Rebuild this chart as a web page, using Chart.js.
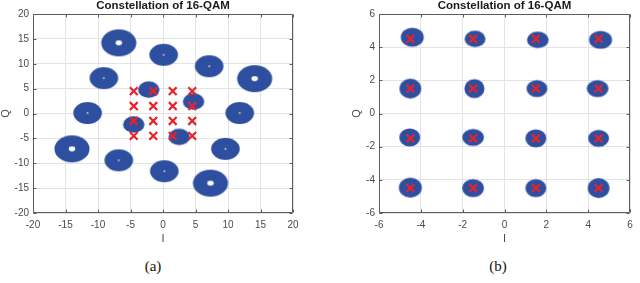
<!DOCTYPE html>
<html>
<head>
<meta charset="utf-8">
<script src="https://cdn.jsdelivr.net/npm/chart.js@4"></script>
<style>
    html, body { margin: 0; padding: 0; background: #fff; }
    #page { position: relative; width: 640px; height: 283px; overflow: hidden; }
    .panel { position: absolute; top: 0; width: 320px; height: 250px; }
    .caption {
        position: absolute; top: 258px; width: 60px; text-align: center;
        font-family: 'Liberation Serif', 'DejaVu Serif', serif; font-size: 15px; color: #111;
    }
</style>
</head>
<body>
<div id="page">
    <div class="panel" style="left:0"><canvas id="chartA" width="320" height="250"></canvas></div>
    <div class="panel" style="left:320px"><canvas id="chartB" width="320" height="250"></canvas></div>
    <div class="caption" style="left:123px">(a)</div>
    <div class="caption" style="left:468px">(b)</div>
</div>
<script>
/* ==========================================
   16-QAM CONSTELLATIONS
   ========================================== */

// (a) received clusters: centre, spread (radius of the cloud) and empty core, in I/Q units
const rxI      = [-6.8, 0.1, 7.1, 14.1, 11.8, 9.6, 7.3, 0.2, -6.8, -14.0, -11.6, -9.1, -2.2, 4.7, 2.5, -4.5];
const rxQ      = [14.2, 11.8, 9.5, 7.0, 0.1, -7.1, -14.0, -11.6, -9.4, -7.1, 0.1, 7.1, 4.8, 2.4, -4.7, -2.2];
const rxSpread = [2.7, 2.2, 2.2, 2.7, 2.2, 2.2, 2.7, 2.2, 2.2, 2.7, 2.2, 2.2, 1.65, 1.65, 1.65, 1.65];
const rxHole   = [0.5, 0.15, 0.15, 0.5, 0.15, 0.15, 0.5, 0.15, 0.15, 0.5, 0.15, 0.15, 0, 0, 0, 0];

// (b) corrected clusters
const eqI       = [-4.41, -1.41, 1.59, 4.59, -4.5, -1.44, 1.55, 4.45, -4.53, -1.5, 1.5, 4.5, -4.5, -1.5, 1.5, 4.5];
const eqQ       = [4.6, 4.5, 4.44, 4.44, 1.5, 1.5, 1.5, 1.5, -1.44, -1.44, -1.5, -1.5, -4.47, -4.5, -4.5, -4.5];
const eqSpreadI = [0.55, 0.5, 0.52, 0.55, 0.52, 0.48, 0.5, 0.52, 0.5, 0.52, 0.5, 0.5, 0.55, 0.52, 0.5, 0.52];
const eqSpreadQ = [0.58, 0.5, 0.5, 0.55, 0.6, 0.58, 0.52, 0.52, 0.55, 0.52, 0.55, 0.52, 0.6, 0.55, 0.55, 0.6];

// ideal 16-QAM points (red crosses)
const refI = [-4.5, -1.5, 1.5, 4.5, -4.5, -1.5, 1.5, 4.5, -4.5, -1.5, 1.5, 4.5, -4.5, -1.5, 1.5, 4.5];
const refQ = [4.5, 4.5, 4.5, 4.5, 1.5, 1.5, 1.5, 1.5, -1.5, -1.5, -1.5, -1.5, -4.5, -4.5, -4.5, -4.5];

const ticksA = [-20, -15, -10, -5, 0, 5, 10, 15, 20];
const ticksB = [-6, -4, -2, 0, 2, 4, 6];

const BLUE = '#2e4f9f';
const RED = '#e8222a';
const AXIS = '#5c5c5c';
const TEXT = '#4a4a4a';
const SANS = "'Liberation Sans', Arial, sans-serif";

function points(xs, ys) {
    return xs.map((v, i) => ({ x: v, y: ys[i] }));
}

// Each cloud becomes an ellipse image sized through the chart's own scales
const blobCache = {};
function blobStyle(tag, spreadI, spreadQ, hole) {
    return function (context) {
        const i = context.dataIndex;
        const sx = context.chart.scales.x;
        const sy = context.chart.scales.y;
        const rx = Math.abs(sx.getPixelForValue(spreadI[i]) - sx.getPixelForValue(0));
        const ry = Math.abs(sy.getPixelForValue(spreadQ[i]) - sy.getPixelForValue(0));
        const h = hole ? hole[i] : 0;
        const hx = Math.abs(sx.getPixelForValue(h) - sx.getPixelForValue(0));
        const hy = Math.abs(sy.getPixelForValue(h) - sy.getPixelForValue(0));
        const key = [tag, i, rx.toFixed(1), ry.toFixed(1)].join('-');
        if (blobCache[key]) return blobCache[key];

        const c = document.createElement('canvas');
        c.width = Math.ceil(rx * 2) + 4;
        c.height = Math.ceil(ry * 2) + 4;
        const g = c.getContext('2d');
        g.fillStyle = BLUE;
        g.beginPath();
        g.ellipse(c.width / 2, c.height / 2, rx, ry, 0, 0, Math.PI * 2);
        g.fill();
        if (hx > 0.4) {
            g.globalCompositeOperation = 'destination-out';
            g.beginPath();
            g.ellipse(c.width / 2, c.height / 2, Math.max(hx, 0.8), Math.max(hy, 0.8), 0, 0, Math.PI * 2);
            g.fill();
        }
        blobCache[key] = c;
        return c;
    };
}

// MATLAB-like box with inward ticks on all four sides
const boxPlugin = {
    id: 'matlabBox',
    afterDatasetsDraw(chart) {
        const { ctx, chartArea: a, scales: { x, y } } = chart;
        const L = Math.round(a.left) + 0.5, R = Math.round(a.right) - 0.5;
        const T = Math.round(a.top) + 0.5, B = Math.round(a.bottom) - 0.5;
        const tl = 3;
        ctx.save();
        ctx.strokeStyle = AXIS;
        ctx.lineWidth = 1;
        ctx.beginPath();
        ctx.rect(L, T, R - L, B - T);
        x.ticks.forEach(t => {
            const px = Math.round(x.getPixelForValue(t.value)) + 0.5;
            ctx.moveTo(px, B); ctx.lineTo(px, B - tl);
            ctx.moveTo(px, T); ctx.lineTo(px, T + tl);
        });
        y.ticks.forEach(t => {
            const py = Math.round(y.getPixelForValue(t.value)) + 0.5;
            ctx.moveTo(L, py); ctx.lineTo(L + tl, py);
            ctx.moveTo(R, py); ctx.lineTo(R - tl, py);
        });
        ctx.stroke();
        ctx.restore();
    }
};

function buildChart(id, cfg) {
    const tickFont = { family: SANS, size: 10 };
    const axisTitleFont = { family: SANS, size: 11, lineHeight: 1 };

    return new Chart(document.getElementById(id), {
        type: 'scatter',
        data: {
            datasets: [
                {
                    data: points(refI, refQ),
                    pointStyle: 'crossRot',
                    radius: 5.5,
                    borderWidth: 2.2,
                    borderColor: RED,
                    backgroundColor: RED,
                    order: 0
                },
                {
                    data: points(cfg.cx, cfg.cy),
                    pointStyle: blobStyle(id, cfg.spreadI, cfg.spreadQ, cfg.hole),
                    radius: 10,
                    borderWidth: 0,
                    order: 1
                }
            ]
        },
        options: {
            responsive: false,
            animation: false,
            events: [],
            layout: { padding: cfg.padding },
            plugins: {
                legend: { display: false },
                tooltip: { enabled: false },
                title: {
                    display: true,
                    text: 'Constellation of 16-QAM',
                    fullSize: false,
                    color: '#1a1a1a',
                    font: { family: SANS, size: 11.5, weight: 'bold', lineHeight: 1 },
                    padding: { top: 0, bottom: 2.5 }
                }
            },
            scales: {
                x: {
                    type: 'linear',
                    min: cfg.ticks[0],
                    max: cfg.ticks[cfg.ticks.length - 1],
                    afterBuildTicks: s => { s.ticks = cfg.ticks.map(v => ({ value: v })); },
                    afterFit: s => { s.height = 37; },
                    grid: { color: '#e4e4e4', drawTicks: false },
                    border: { display: false },
                    ticks: { color: TEXT, font: tickFont, padding: 6, maxRotation: 0 },
                    title: { display: true, text: 'I', color: TEXT, font: axisTitleFont, padding: { top: 0, bottom: 6 } }
                },
                y: {
                    type: 'linear',
                    min: cfg.ticks[0],
                    max: cfg.ticks[cfg.ticks.length - 1],
                    afterBuildTicks: s => { s.ticks = cfg.ticks.map(v => ({ value: v })); },
                    afterFit: s => { s.width = cfg.yWidth; },
                    grid: { color: '#e4e4e4', drawTicks: false },
                    border: { display: false },
                    ticks: { color: TEXT, font: tickFont, padding: 4 },
                    title: { display: true, text: 'Q', color: TEXT, font: axisTitleFont, padding: { top: 0, bottom: 0 } }
                }
            }
        },
        plugins: [boxPlugin]
    });
}

function initCharts() {
    buildChart('chartA', {
        cx: rxI, cy: rxQ, spreadI: rxSpread, spreadQ: rxSpread, hole: rxHole,
        ticks: ticksA, yWidth: 33,
        padding: { left: 0, right: 27, top: 0, bottom: 0 }
    });
    buildChart('chartB', {
        cx: eqI, cy: eqQ, spreadI: eqSpreadI, spreadQ: eqSpreadQ, hole: null,
        ticks: ticksB, yWidth: 28,
        padding: { left: 31, right: 3, top: 0, bottom: 0 }
    });
}

initCharts();
</script>
</body>
</html>
